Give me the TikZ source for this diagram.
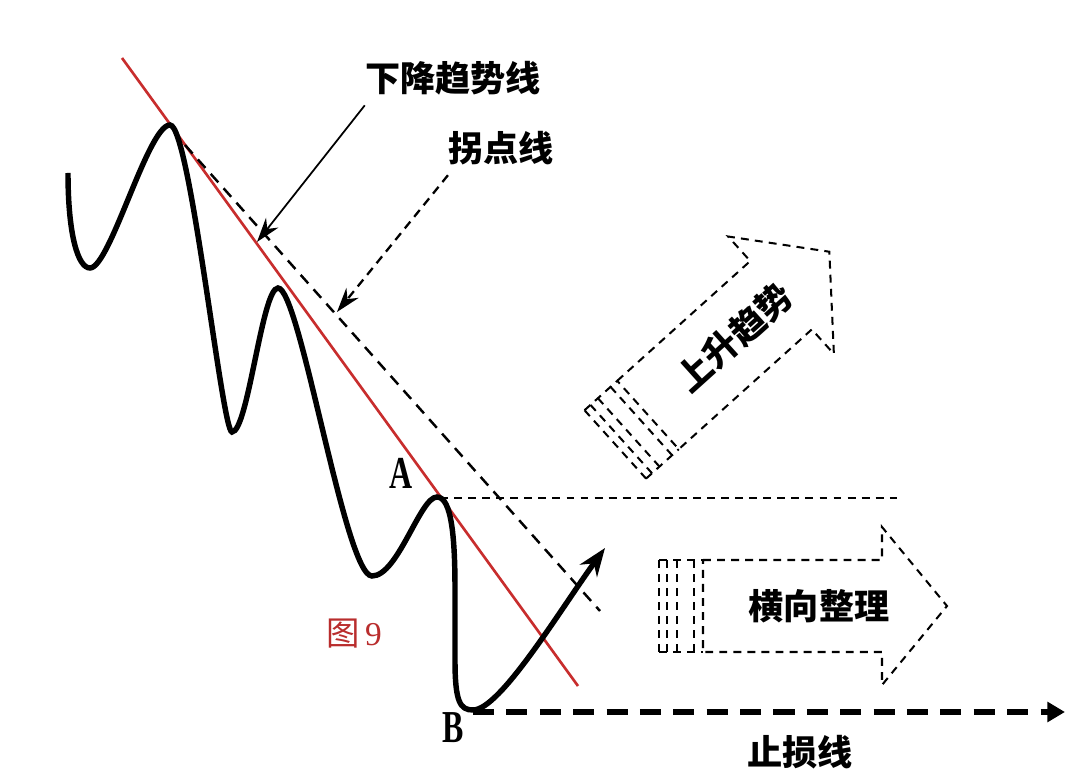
\documentclass[tikz,border=0pt]{standalone}
\usepackage{fontspec}
\setmainfont{Liberation Serif}
\newfontfamily\cjk{Noto Sans CJK SC}
\usetikzlibrary{arrows.meta}
\definecolor{trendred}{RGB}{200,45,45}
\definecolor{labelred}{RGB}{185,45,45}
\tikzset{
  wave/.style={line width=3.1pt},
  trendline/.style={draw=trendred, line width=1.5pt},
  breakline/.style={line width=1.4pt, dash pattern=on 6.5pt off 4.5pt},
  levelline/.style={line width=1.3pt, dash pattern=on 4.5pt off 3.5pt},
  stopline/.style={line width=3.2pt, dash pattern=on 12pt off 7pt, -{Triangle[length=10pt,width=11pt]}},
  pointer/.style={line width=1pt, -{Stealth[length=14pt,width=9pt]}},
  caption/.style={inner sep=0pt, font=\cjk\bfseries\fontsize{20}{20}\selectfont},
  pointlabel/.style={inner sep=0pt, font=\bfseries\fontsize{26}{26}\selectfont, xscale=0.7},
  ghost/.style={line width=1.15pt, dash pattern=on 4.5pt off 3.5pt},
  pics/trendarrow/.style={code={
    \draw[ghost] (0,-46) -- (179,-46) -- (179,-79) -- (244,0) -- (179,79) -- (179,46) -- (0,46) -- cycle;
    \foreach \dx in {9,26,36,44} \draw[ghost] (-\dx,-46) -- (-\dx,46);
    \draw[ghost] (-44,-46) -- (0,-46) (-44,46) -- (0,46);
    \node[caption, transform shape] at (116,0) {#1};
  }},
}
\begin{document}
\begin{tikzpicture}[x=0.02cm, y=-0.02cm]
  \fill[white] (0,0) rectangle (1082,776);
  \useasboundingbox (0,0) rectangle (1082,776);

  % trend and break lines
  \draw[trendline] (122,58) -- (578,686);
  \draw[breakline] (185,145) -- (600,611);
  \draw[levelline] (440,498) -- (897,498);

  % price curve
  \draw[wave, -{Stealth[length=16pt,width=12pt]}] (68,173)
    .. controls (68,235) and (78,268) .. (90,268)
    .. controls (110,268) and (148,125) .. (170,125)
    .. controls (190,125) and (222,432) .. (232,432)
    .. controls (248,432) and (262,288) .. (278,288)
    .. controls (300,288) and (345,576) .. (372,576)
    .. controls (398,576) and (420,497) .. (437,497)
    .. controls (452,497) and (455,540) .. (455,590)
    -- (455,660)
    .. controls (455,702) and (460,710) .. (473,710)
    .. controls (500,710) and (560,610) .. (605,548);

  % labels
  \node[caption] (down) at (453,78) {下降趋势线};
  \node[caption] (turn) at (501,148) {拐点线};
  \coordinate (downtip) at (257,242);
  \coordinate (turntip) at (337,312);
  \draw[pointer] ([shift={(0,10)}]down.south west) -- (downtip);
  \draw[pointer, line width=1.3pt, dash pattern=on 5pt off 3.5pt] ([shift={(0,10)}]turn.south west) -- (turntip);

  \node[pointlabel] (A) at (401,473) {A};
  \node[pointlabel] (B) at (453,728) {B};
  \node[font=\cjk\fontsize{19}{19}\selectfont, text=labelred, inner sep=0pt] (fig) at (354,634) {图\,\rmfamily 9};

  % stop loss
  \coordinate (bottom) at (473,712);
  \coordinate (stopend) at (1065,712);
  \draw[stopline] (bottom) -- (stopend);
  \node[caption] (stop) at (800,752) {止损线};

  % outlook arrows
  \pic at (703,606) {trendarrow=横向整理};
  \pic[rotate=42] at (648,415) {trendarrow=上升趋势};
\end{tikzpicture}
\end{document}
